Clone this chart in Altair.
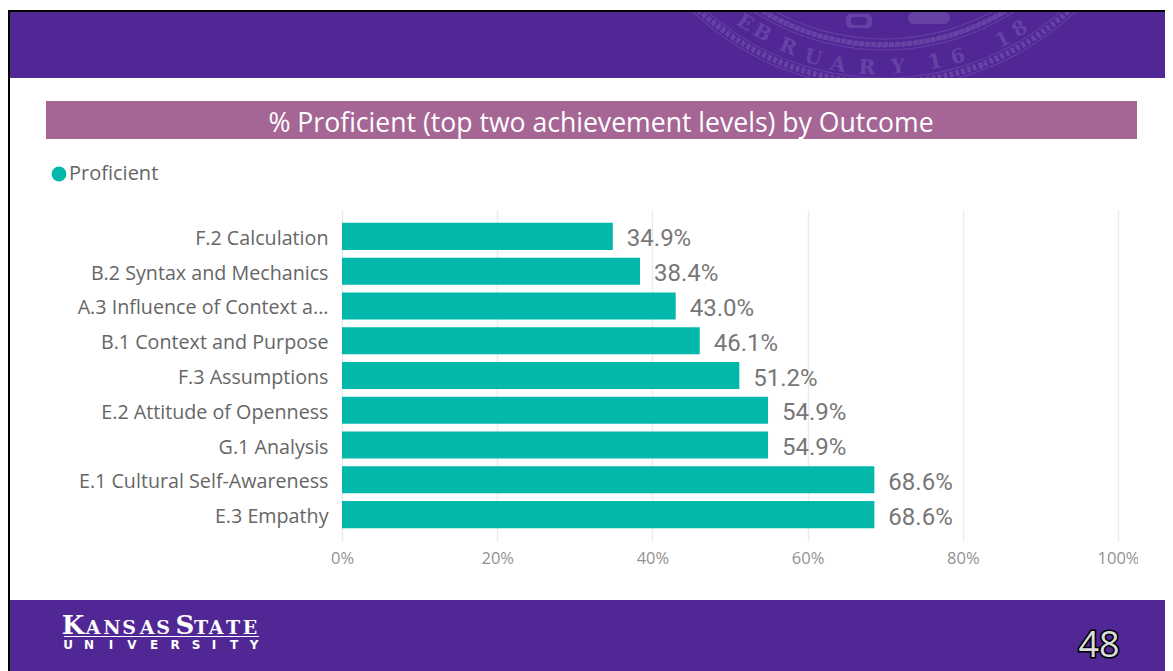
import math
import altair as alt
import pandas as pd

outcomes = ["F.2 Calculation", "B.2 Syntax and Mechanics", "A.3 Influence of Context a...",
            "B.1 Context and Purpose", "F.3 Assumptions", "E.2 Attitude of Openness",
            "G.1 Analysis", "E.1 Cultural Self-Awareness", "E.3 Empathy"]
proficient = [0.349, 0.384, 0.430, 0.461, 0.512, 0.549, 0.549, 0.686, 0.686]
x_ticks = [0, 0.2, 0.4, 0.6, 0.8, 1.0]
series_name = "Proficient"
title_text = "% Proficient (top two achievement levels) by Outcome"

PURPLE = "#502795"
SEAL = "#6742a5"
OX, OY = 342, 210  # page position of the plot origin
one = pd.DataFrame({"a": [0]})
df = pd.DataFrame({"Outcome": outcomes, "value": proficient, "series": series_name})


def rect(x0, y0, x1, y1, color, **kw):
    return alt.Chart(one).mark_rect(color=color, **kw).encode(
        x=alt.value(x0 - OX), x2=alt.value(x1 - OX),
        y=alt.value(y0 - OY), y2=alt.value(y1 - OY))


def label(text, x, y, **kw):
    return alt.Chart(one).mark_text(text=text, **kw).encode(
        x=alt.value(x - OX), y=alt.value(y - OY))


CX, CY = 884, -190
TH0, TH1 = math.pi - 0.85, math.pi + 0.85


def ring(r_out, r_in, **kw):
    return alt.Chart(one).mark_arc(radius=r_out, radius2=r_in, theta=TH0, theta2=TH1,
                                   color=SEAL, **kw).encode(
        x=alt.value(CX - OX), y=alt.value(CY - OY))


layers = [
    rect(8, 12, 1173, 78, PURPLE),
    ring(278.5, 277.5), ring(268.5, 267.5),
    alt.Chart(one).mark_arc(radius=273, radius2=272.6, theta=TH0, theta2=TH1, stroke=SEAL,
                            strokeWidth=6, strokeDash=[2, 4], fillOpacity=0).encode(
        x=alt.value(CX - OX), y=alt.value(CY - OY)),
    ring(240.5, 239.5), ring(229.5, 228.5),
    alt.Chart(one).mark_arc(radius=235, radius2=234.6, theta=TH0, theta2=TH1, stroke=SEAL,
                            strokeWidth=5, strokeDash=[3, 3], fillOpacity=0).encode(
        x=alt.value(CX - OX), y=alt.value(CY - OY)),
    rect(846, 14, 872, 28, SEAL, cornerRadius=5),
    rect(851, 17, 867, 25, PURPLE, cornerRadius=3),
    rect(908, 12, 950, 24, SEAL, cornerRadius=8),
]

seal_letters = ["E", "B", "R", "U", "A", "R", "Y", "1", "6", ",", "1", "8"]
seal_x = [745, 762, 788, 813, 838, 867, 898, 935, 958, 980, 1003, 1020]
seal_y = [23, 33, 47, 58, 65, 68, 67, 62, 57, 60, 40, 29]
for ch, sx, sy in zip(seal_letters, seal_x, seal_y):
    ang = math.degrees(math.atan2(CX - sx, sy - CY)) % 360
    layers.append(label(ch, sx, sy, font="DejaVu Serif", fontSize=20, fontWeight="bold",
                        color=SEAL, angle=ang, align="center", baseline="middle"))

layers += [
    rect(650, 78, 1173, 100, "white"),
    rect(8, 0, 1173, 10, "white"),
    rect(8, 10, 1173, 12, "#000000"),
    rect(46, 101, 1137, 139, "#a56695"),
    label(title_text, 601, 124, font="Open Sans", fontSize=26.6, color="white",
          align="center", baseline="middle"),
]

x_enc = alt.X("value:Q", scale=alt.Scale(domain=[0, 1], nice=False),
              axis=alt.Axis(values=x_ticks, format=".0%", title=None, ticks=False, domain=False,
                            grid=True, gridColor="#ececec", gridWidth=1.5,
                            labelFont="Open Sans", labelFontSize=16.5, labelColor="#929292",
                            labelPadding=9, labelFlush=False))
y_enc = alt.Y("Outcome:N", sort=outcomes,
              scale=alt.Scale(paddingInner=0.22, paddingOuter=0.37),
              axis=alt.Axis(title=None, ticks=False, domain=False, grid=False,
                            labelFont="Open Sans", labelFontSize=19.7, labelColor="#666666",
                            labelPadding=14, labelLimit=300, labelOffset=2.5))

bars = alt.Chart(df).mark_bar().encode(
    x=x_enc, y=y_enc,
    color=alt.Color("series:N", scale=alt.Scale(range=["#01b8aa"]),
                    legend=alt.Legend(orient="none", legendX=49 - OX, legendY=164 - OY,
                                      title=None, symbolType="circle", symbolSize=220,
                                      symbolStrokeWidth=0, labelFont="Open Sans", labelFontSize=20,
                                      labelColor="#666666", labelOffset=0, padding=0)))
values = alt.Chart(df).mark_text(align="left", baseline="middle", dx=14, dy=3,
                                 font="Roboto", fontSize=24,
                                 color="#777777").encode(
    x=alt.X("value:Q"), y=alt.Y("Outcome:N", sort=outcomes),
    text=alt.Text("value:Q", format=".1%"))

layers += [
    bars, values,
    rect(1138, 545, 1173, 575, "white"),
    rect(8, 600, 1173, 671, PURPLE),
    rect(8, 12, 10, 671, "#000000"),
]

logo_letters = list("KANSAS") + list("STATE")
logo_x = [73, 93, 112, 129, 147, 163, 185, 201, 216, 233, 250]
logo_big = {0, 6}
for i, (ch, lx) in enumerate(zip(logo_letters, logo_x)):
    layers.append(label(ch, lx, 634, font="DejaVu Serif", fontWeight="bold",
                        fontSize=26 if i in logo_big else 19, color="white",
                        align="center", baseline="alphabetic"))
layers.append(rect(64, 636, 259, 637, "white"))
for ch, lx in zip("UNIVERSITY", [68, 89, 111, 132, 154, 175, 196, 214, 234, 254]):
    layers.append(label(ch, lx, 649, font="DejaVu Sans", fontWeight="bold", fontSize=12,
                        color="white", align="center", baseline="alphabetic"))
layers.append(label("48", 1099, 657, font="Open Sans", fontSize=36,
                    color="#000000", stroke="#000000", strokeWidth=3.2,
                    align="center", baseline="alphabetic"))
layers.append(label("48", 1099, 657, font="Open Sans", fontSize=36,
                    color="#dcdcdc", align="center", baseline="alphabetic"))

chart = alt.layer(*layers).properties(
    width=776, height=331,
    padding={"left": OX - 8, "top": OY - 8, "right": 1165 - OX - 776,
             "bottom": 671 - 8 - (OY - 8) - 331},
    autosize=alt.AutoSizeParams(type="none"),
    background="white",
).configure_view(stroke=None)

chart.save("out.html", embed_options={"renderer": "svg", "actions": False})
